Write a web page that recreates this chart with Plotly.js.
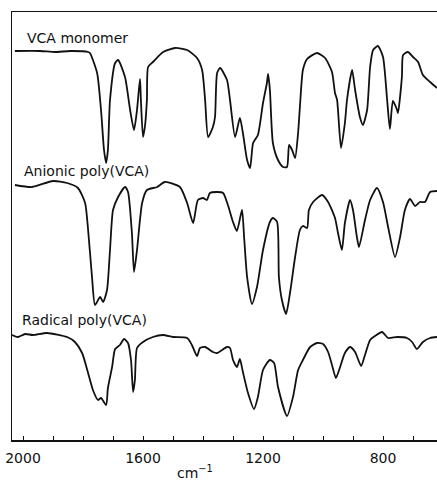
<!DOCTYPE html>
<html>
<head>
<meta charset="utf-8">
<script src="https://cdn.plot.ly/plotly-3.0.1.min.js"></script>
<style>html,body{margin:0;padding:0;background:#fff;}#chart{width:437px;height:485px;}</style>
</head>
<body>
<div id="chart"></div>
<script>
// Wavenumbers (cm-1) and relative transmittance (offset, arbitrary units)
const monoWn = [2027,1943,1893,1843,1783,1777,1753,1740,1730,1723,1717,1710,1693,1683,1660,1643,1630,1620,1610,1607,1600,1593,1587,1583,1567,1533,1493,1453,1420,1403,1393,1383,1367,1360,1353,1343,1320,1310,1293,1277,1267,1253,1243,1233,1217,1200,1187,1183,1177,1167,1150,1133,1120,1113,1103,1093,1083,1077,1067,1053,1020,993,970,960,953,940,927,920,903,893,877,867,853,843,833,817,800,787,777,767,753,750,737,733,717,700,683,667,643,620];
const monoT  = [97.25,97.25,97,97.25,97,96.75,91.75,82.5,72.5,69.25,72.5,85,94.25,95,90.75,82.5,77.5,82.5,90.25,85,75.75,78.75,85,93.25,94.5,97,98,97.5,95.5,92.5,85,75.75,78.25,80.75,91.75,93,90,85,75.75,80.5,76.75,70,68,74.25,76.25,84.25,89.25,91.5,87.5,74.25,70,68.25,68.25,73.75,72.5,70.5,76.75,83.25,92.5,95.25,96.75,95.5,92,86.75,85,73,79.25,85,92.5,87.5,80.75,78.75,82.5,93.25,97.5,98.5,95.75,85.75,77.75,84.75,82.5,81.75,90.75,96.25,97,95.75,94.5,91.25,89.5,88];

const anioWn = [2027,1970,1900,1853,1817,1793,1783,1770,1760,1743,1733,1720,1710,1700,1683,1660,1650,1637,1630,1620,1603,1587,1553,1527,1477,1453,1433,1417,1400,1387,1377,1353,1333,1317,1300,1287,1270,1263,1253,1237,1220,1200,1177,1167,1153,1147,1137,1123,1110,1093,1077,1067,1053,1047,1033,1003,983,960,950,937,927,910,900,887,880,860,843,820,800,783,760,743,727,710,693,677,660,643,620];
const anioT  = [63.75,63.25,64.75,64.25,63,59.25,52.5,40.75,33.75,35.75,34.5,37.5,47.5,57.5,60.75,63.25,62,51.75,42,47.5,59.25,62.5,63.25,64.5,63.25,59.25,54.25,60,60.5,60,61.75,62,61.75,58.75,54.5,52.25,57.5,50.75,40.75,34,38.25,47.5,54.5,55.5,54.5,40.75,35,31.5,36.75,45.75,52.5,53.5,53,57.5,59.5,61.25,59.5,55.5,51.75,47.5,54.25,60,57.5,50.75,48.25,55,60,63,59.5,53.25,45.75,50.75,57.5,60.25,58.5,59.5,59.5,62,62.25];

const radWn = [2037,2017,1993,1967,1920,1853,1827,1803,1783,1767,1750,1740,1723,1717,1703,1693,1677,1663,1650,1640,1633,1627,1620,1600,1567,1533,1500,1453,1437,1420,1410,1393,1367,1353,1320,1310,1300,1287,1277,1267,1250,1230,1217,1200,1177,1163,1150,1120,1100,1083,1067,1043,1020,1000,983,970,957,943,927,910,893,873,860,843,827,803,783,753,720,703,687,667,643,620];
const radT  = [26.25,25.75,26.5,26.25,26.75,25.75,24.5,21.75,16.75,12.5,10,10.5,8.75,13,18.25,22.75,23.75,25.25,24.25,20,12,15,23,24.5,25.75,26.25,25.75,25.5,23.75,21,23,23.25,22,21.75,23.25,23,20,18.25,20.25,17,11.75,7.75,10.75,17.5,20,19.25,13.25,6,10.75,17.5,20,23.25,24.25,24,22,18.75,15.5,18.25,21.75,23.25,22,18.5,21.25,25,26,27,25.5,25.75,25.5,24.5,22.75,24.5,25.5,25.75];

const seriesNames = ["VCA monomer", "Anionic poly(VCA)", "Radical poly(VCA)"];
const tickVals = [2000, 1600, 1200, 800];
const tickText = ["2000", "1600", "1200", "800"];

const lineStyle = {color: "#111", width: 1.8, shape: "spline", smoothing: 0.6};
const data = [
  {x: monoWn, y: monoT, name: seriesNames[0]},
  {x: anioWn, y: anioT, name: seriesNames[1]},
  {x: radWn, y: radT, name: seriesNames[2]}
].map(t => Object.assign(t, {type: "scatter", mode: "lines", line: lineStyle, hoverinfo: "skip"}));

const font = "DejaVu Sans, Liberation Sans, sans-serif";
const layout = {
  width: 437, height: 485,
  margin: {l: 12, r: 0, t: 12, b: 45},
  paper_bgcolor: "#fff", plot_bgcolor: "#fff",
  showlegend: false,
  xaxis: {
    range: [2036.7, 620],
    showline: true, linecolor: "#111", linewidth: 1.5, mirror: true,
    showgrid: false, zeroline: false,
    tickmode: "array", tickvals: tickVals, ticktext: tickText,
    ticks: "inside", ticklen: 4, tickcolor: "#111", tickwidth: 1,
    ticklabelstandoff: 5,
    minor: {tick0: 0, dtick: 100, ticks: "inside", ticklen: 4, tickcolor: "#111", showgrid: false},
    tickfont: {family: font, size: 14, color: "#111"}
  },
  yaxis: {
    range: [0, 107],
    showline: true, linecolor: "#111", linewidth: 1.5,
    showgrid: false, zeroline: false, showticklabels: false, ticks: ""
  },
  annotations: [
    {x: 1993, y: 100.5, xref: "x", yref: "y", text: seriesNames[0], showarrow: false, xanchor: "left", yanchor: "middle", font: {family: font, size: 14, color: "#111"}},
    {x: 2003, y: 67.25, xref: "x", yref: "y", text: seriesNames[1], showarrow: false, xanchor: "left", yanchor: "middle", font: {family: font, size: 14, color: "#111"}},
    {x: 2010, y: 30, xref: "x", yref: "y", text: seriesNames[2], showarrow: false, xanchor: "left", yanchor: "middle", font: {family: font, size: 14, color: "#111"}},
    {x: 0.43, y: -0.075, xref: "paper", yref: "paper", text: "cm<sup>−1</sup>", showarrow: false, xanchor: "center", yanchor: "middle", font: {family: font, size: 14, color: "#111"}}
  ]
};
Plotly.newPlot("chart", data, layout, {displayModeBar: false, staticPlot: true});
</script>
</body>
</html>
